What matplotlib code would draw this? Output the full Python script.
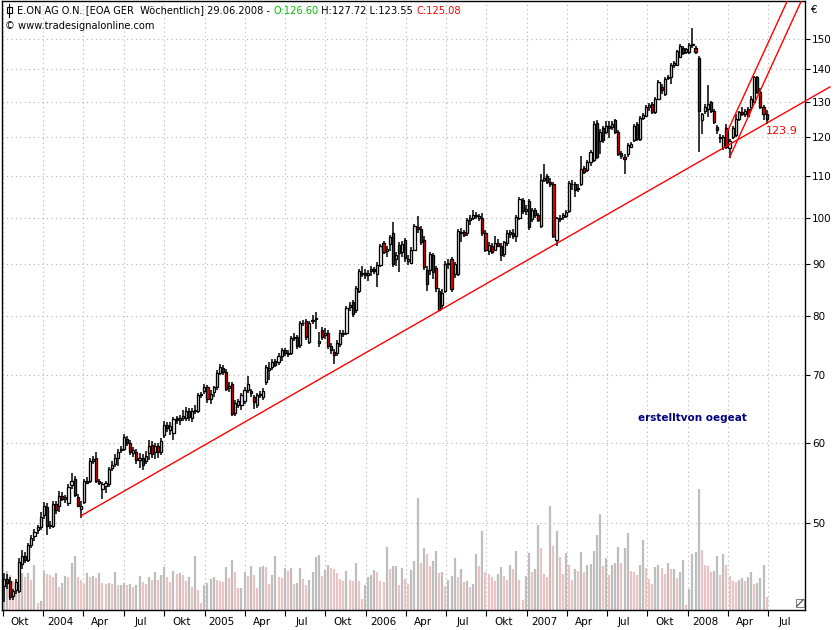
import datetime as dt

import numpy as np
import matplotlib
matplotlib.use("Agg")
import matplotlib.pyplot as plt
import matplotlib.dates as mdates
from matplotlib.patches import Rectangle
from matplotlib.lines import Line2D
from matplotlib.ticker import FixedLocator, FixedFormatter, NullLocator, NullFormatter

W, H = 840, 630

# ── Data: E.ON weekly candles ────────────────────────────────────────────────
FIRST_WEEK = dt.date(2003, 10, 3)

OPEN = [
    43.3, 44.0, 43.8, 42.4, 42.9, 42.8, 45.5, 46.4, 46.0, 47.5,
    48.5, 49.2, 49.5, 50.9, 51.8, 49.7, 49.6, 52.2, 52.0, 53.2,
    52.8, 52.3, 54.5, 55.3, 53.0, 51.6, 52.4, 55.0, 55.0, 57.6,
    58.0, 55.0, 54.0, 54.4, 54.6, 56.6, 57.2, 58.0, 59.0, 59.2,
    60.5, 60.0, 58.6, 58.7, 57.7, 58.0, 57.6, 58.6, 59.7, 58.7,
    59.5, 58.7, 61.0, 62.4, 61.8, 61.3, 63.4, 63.2, 63.5, 63.5,
    64.5, 63.5, 64.6, 64.5, 66.8, 67.4, 68.0, 66.2, 67.3, 68.0,
    70.3, 71.0, 70.5, 67.9, 68.5, 64.2, 65.4, 65.3, 66.0, 67.6,
    67.4, 66.5, 65.3, 66.8, 66.5, 68.9, 70.7, 71.2, 72.2, 72.0,
    73.0, 74.0, 73.3, 73.6, 76.0, 76.2, 74.8, 78.7, 79.1, 75.4,
    79.0, 79.4, 75.2, 77.5, 76.6, 77.0, 74.7, 73.7, 73.5, 75.0,
    76.8, 77.0, 81.6, 82.5, 81.0, 84.7, 88.0, 88.2, 87.8, 88.5,
    89.0, 88.0, 89.8, 94.3, 92.6, 94.2, 96.6, 91.0, 94.0, 92.4,
    95.0, 90.6, 90.3, 93.0, 97.8, 97.4, 95.0, 88.8, 88.8, 91.8,
    89.2, 84.7, 82.0, 84.7, 90.0, 91.0, 88.0, 88.0, 96.5, 96.8,
    96.5, 99.4, 100.0, 100.3, 100.0, 100.0, 96.5, 92.7, 93.8, 93.0,
    94.3, 93.8, 92.0, 94.3, 96.4, 96.6, 96.0, 100.0, 104.0, 101.4,
    103.8, 99.7, 101.7, 100.5, 98.0, 109.0, 109.8, 108.4, 108.0, 95.0,
    99.6, 100.2, 100.4, 101.5, 108.0, 108.0, 106.8, 108.0, 111.8, 111.5,
    113.5, 114.0, 124.0, 119.0, 122.5, 121.5, 123.0, 122.8, 124.8, 121.5,
    115.8, 114.8, 115.5, 117.5, 119.2, 123.6, 119.5, 125.5, 126.0, 128.5,
    129.4, 127.0, 131.0, 134.5, 132.5, 137.2, 137.5, 141.5, 141.5, 144.0,
    147.0, 145.6, 145.6, 147.8, 147.0, 143.6, 124.8, 127.5, 128.0, 130.0,
    127.5, 122.8, 119.8, 117.5, 122.6, 117.0, 120.0, 120.5, 125.0, 127.2,
    126.5, 128.0, 128.5, 130.0, 137.5, 133.0, 128.5, 126.60,
]
HIGH = [
    44.6, 44.5, 44.2, 43.0, 44.0, 46.2, 47.0, 46.8, 47.8, 48.6,
    49.3, 49.8, 51.2, 52.4, 52.3, 50.2, 52.6, 52.6, 53.8, 53.6,
    53.3, 54.6, 56.0, 55.6, 53.4, 52.6, 55.3, 55.5, 57.9, 58.2,
    58.7, 55.3, 54.9, 55.0, 56.8, 57.5, 58.4, 59.2, 59.6, 61.2,
    60.9, 60.4, 59.4, 59.1, 58.6, 58.5, 58.8, 60.3, 60.2, 60.0,
    60.0, 60.6, 63.0, 62.8, 62.8, 63.6, 63.8, 63.9, 64.6, 65.0,
    64.9, 64.9, 65.4, 67.2, 67.3, 68.6, 68.4, 67.6, 68.3, 70.7,
    71.8, 71.5, 70.9, 68.8, 68.9, 66.1, 66.3, 67.2, 68.1, 69.8,
    67.8, 66.9, 67.2, 67.4, 67.9, 71.6, 72.0, 72.6, 72.6, 73.5,
    74.4, 74.4, 74.0, 76.5, 77.0, 76.6, 79.0, 79.2, 79.4, 79.1,
    80.2, 80.7, 77.2, 78.0, 77.8, 77.5, 75.2, 74.2, 75.8, 77.4,
    77.5, 81.9, 82.5, 82.9, 85.6, 88.9, 89.6, 88.9, 88.8, 89.6,
    89.4, 90.4, 94.2, 94.8, 93.8, 96.2, 98.9, 92.5, 94.6, 94.9,
    95.5, 91.8, 93.5, 98.6, 100.3, 98.0, 95.8, 89.5, 92.5, 92.3,
    89.6, 85.2, 85.0, 90.6, 91.0, 91.5, 90.4, 97.4, 97.6, 97.3,
    99.9, 100.6, 101.8, 101.2, 100.9, 101.0, 97.2, 94.6, 94.3, 95.8,
    95.2, 94.3, 94.9, 97.2, 97.3, 97.4, 100.6, 104.8, 104.6, 102.8,
    104.3, 102.2, 102.3, 101.0, 110.5, 113.0, 110.5, 109.4, 108.5, 100.2,
    100.6, 101.0, 101.7, 108.6, 108.8, 108.4, 107.8, 115.0, 112.4, 114.0,
    116.5, 124.6, 124.8, 122.2, 123.0, 124.5, 124.6, 124.5, 125.2, 122.0,
    116.2, 115.5, 118.5, 118.8, 123.6, 124.2, 126.0, 126.8, 129.0, 129.6,
    129.9, 131.6, 136.6, 135.3, 137.6, 138.3, 142.0, 142.8, 146.4, 148.3,
    147.6, 147.0, 148.5, 153.8, 147.6, 144.2, 126.9, 129.5, 135.0, 130.4,
    128.0, 123.4, 121.0, 120.6, 123.6, 119.5, 123.0, 126.5, 127.5, 128.6,
    128.0, 128.5, 131.8, 138.0, 138.0, 134.2, 129.2, 127.72,
]
LOW = [
    41.8, 43.0, 42.0, 42.0, 42.5, 42.6, 45.0, 45.6, 45.8, 47.2,
    48.0, 48.8, 49.2, 50.5, 48.6, 49.3, 49.4, 51.0, 51.2, 52.6,
    52.3, 52.0, 54.0, 53.0, 51.8, 50.6, 52.2, 54.6, 54.8, 57.2,
    54.8, 54.5, 52.8, 53.5, 54.2, 56.2, 56.8, 56.9, 58.6, 58.9,
    59.6, 58.3, 58.1, 57.1, 56.6, 56.4, 57.2, 57.7, 58.0, 57.8,
    58.0, 58.3, 60.6, 61.5, 61.0, 60.3, 62.6, 62.4, 63.0, 63.0,
    63.0, 62.8, 64.0, 64.2, 66.4, 67.0, 65.7, 65.5, 66.6, 67.6,
    69.9, 70.0, 67.4, 67.3, 63.7, 63.8, 64.9, 64.6, 65.5, 67.2,
    66.6, 64.8, 64.9, 66.4, 66.1, 68.4, 69.2, 70.7, 71.2, 71.5,
    72.2, 73.0, 72.8, 73.2, 75.6, 74.2, 74.4, 78.2, 75.8, 75.0,
    78.6, 77.6, 74.6, 75.8, 75.9, 74.2, 73.4, 71.8, 73.0, 74.5,
    76.2, 76.6, 80.9, 79.8, 80.6, 84.2, 87.3, 87.0, 86.6, 87.6,
    87.9, 85.5, 89.3, 92.0, 91.5, 92.6, 89.4, 89.6, 88.4, 91.5,
    90.5, 89.8, 89.9, 92.6, 96.6, 94.0, 88.8, 84.6, 87.8, 87.0,
    84.5, 80.8, 81.3, 84.2, 89.0, 84.5, 87.2, 87.5, 94.5, 95.6,
    96.0, 98.4, 99.4, 99.6, 99.2, 96.0, 92.5, 91.8, 92.0, 92.6,
    93.5, 90.6, 91.4, 93.8, 95.5, 95.2, 94.6, 99.5, 100.8, 100.6,
    97.3, 99.0, 100.0, 98.9, 97.6, 108.5, 107.8, 107.3, 95.4, 93.8,
    99.0, 99.5, 99.8, 101.0, 106.5, 104.8, 106.0, 107.5, 110.5, 110.8,
    112.5, 113.5, 114.3, 115.5, 118.5, 121.0, 119.8, 122.0, 121.0, 115.0,
    114.2, 110.5, 114.8, 117.0, 118.6, 119.0, 119.0, 124.8, 125.6, 127.5,
    126.5, 126.4, 130.6, 132.5, 131.8, 136.6, 135.5, 140.5, 141.0, 143.5,
    144.6, 145.0, 145.0, 146.8, 144.9, 116.0, 121.0, 126.5, 125.6, 126.8,
    123.6, 120.8, 118.5, 116.5, 116.8, 114.6, 119.5, 120.0, 124.5, 126.0,
    125.6, 125.6, 127.5, 129.6, 132.5, 128.0, 124.8, 123.55,
]
CLOSE = [
    44.0, 43.6, 42.3, 42.8, 43.7, 45.8, 46.4, 46.0, 47.5, 48.3,
    49.0, 49.5, 50.7, 52.0, 49.7, 49.8, 52.2, 51.5, 53.2, 52.8,
    53.0, 54.2, 55.0, 53.3, 52.0, 52.0, 55.0, 54.8, 57.6, 57.8,
    55.0, 54.8, 54.6, 54.8, 56.5, 57.0, 58.0, 58.7, 59.2, 60.7,
    60.0, 58.7, 59.0, 57.7, 58.0, 57.0, 58.2, 59.5, 58.5, 59.5,
    58.7, 60.2, 62.5, 62.0, 62.3, 63.3, 63.1, 63.5, 63.8, 64.5,
    63.6, 64.5, 64.4, 66.8, 67.0, 68.0, 66.3, 67.0, 68.0, 70.3,
    71.2, 70.5, 67.8, 68.3, 64.0, 65.7, 66.0, 66.8, 67.6, 68.6,
    67.2, 65.8, 66.8, 67.0, 67.5, 71.2, 71.0, 72.0, 71.6, 73.0,
    74.0, 73.5, 73.6, 76.0, 76.2, 74.7, 78.7, 78.8, 76.3, 78.8,
    79.2, 79.6, 75.5, 76.3, 76.9, 74.7, 74.0, 73.2, 75.3, 77.0,
    77.0, 81.5, 82.0, 80.4, 85.2, 88.5, 88.2, 87.8, 88.2, 89.0,
    88.5, 89.8, 93.8, 92.5, 93.2, 95.7, 90.0, 91.8, 92.2, 94.2,
    91.2, 91.0, 93.0, 98.0, 97.4, 94.6, 89.4, 86.0, 92.0, 88.4,
    85.3, 81.0, 84.3, 90.0, 90.3, 85.0, 90.0, 97.0, 96.8, 96.2,
    99.4, 100.0, 100.5, 100.6, 100.3, 96.5, 93.0, 94.0, 92.4, 94.3,
    93.8, 91.8, 94.5, 96.6, 96.8, 95.8, 100.2, 104.4, 101.4, 102.0,
    97.8, 101.7, 100.5, 99.5, 109.0, 109.5, 108.5, 108.0, 96.0, 99.8,
    100.0, 100.5, 101.2, 108.2, 108.0, 106.5, 107.0, 111.6, 111.0, 113.5,
    116.0, 123.7, 114.8, 121.5, 119.3, 123.2, 122.5, 123.8, 121.5, 115.5,
    115.0, 114.3, 117.8, 118.2, 123.0, 119.4, 125.5, 126.2, 128.5, 129.0,
    127.0, 131.0, 136.0, 133.5, 137.0, 137.5, 141.5, 142.0, 146.0, 147.5,
    145.2, 146.5, 148.0, 148.3, 145.5, 127.3, 126.6, 128.5, 129.3, 127.5,
    124.3, 122.0, 120.2, 120.0, 117.5, 119.0, 122.5, 125.0, 127.0, 126.5,
    127.5, 126.0, 131.0, 137.5, 133.0, 128.5, 126.6, 125.08,
]
# volume, in pixels of bar height on the original chart
VOLUME = [
    30, 39, 35, 29, 25, 28, 37, 33, 37, 30,
    45, 7, 9, 39, 36, 35, 33, 37, 23, 27,
    34, 33, 47, 54, 33, 30, 26, 37, 33, 34,
    32, 37, 27, 26, 27, 26, 38, 25, 25, 27,
    25, 26, 23, 25, 34, 28, 26, 33, 30, 38,
    30, 35, 43, 33, 28, 39, 36, 37, 35, 29,
    33, 23, 54, 20, 7, 25, 27, 31, 33, 30,
    29, 28, 43, 32, 50, 38, 22, 22, 38, 34,
    44, 35, 22, 43, 44, 43, 26, 35, 54, 33,
    32, 42, 39, 42, 26, 27, 42, 31, 25, 30,
    38, 53, 55, 34, 40, 45, 42, 41, 37, 31,
    29, 39, 30, 29, 47, 29, 11, 25, 33, 35,
    40, 38, 29, 28, 63, 41, 44, 44, 25, 42,
    31, 26, 40, 49, 112, 47, 62, 56, 44, 49,
    59, 37, 38, 24, 30, 34, 52, 33, 41, 28,
    29, 23, 26, 56, 44, 79, 38, 36, 33, 29,
    36, 43, 34, 30, 45, 41, 59, 30, 10, 34,
    57, 38, 41, 85, 62, 36, 33, 104, 64, 79,
    53, 36, 57, 45, 30, 41, 39, 58, 38, 45,
    46, 59, 75, 96, 44, 52, 35, 45, 47, 63,
    47, 62, 77, 39, 38, 35, 45, 70, 42, 31,
    26, 43, 45, 42, 36, 47, 41, 41, 32, 38,
    50, 5, 21, 56, 58, 121, 60, 45, 44, 38,
    39, 54, 35, 56, 45, 34, 29, 28, 30, 32,
    29, 33, 38, 26, 27, 32, 45, 13,
]

QUARTER_STARTS = [(2003, 10)] + [(y, m) for y in range(2004, 2009)
                                 for m in (1, 4, 7, 10)][:-1]
QUARTER_LABELS = ["Okt"] + [lbl for y in range(2004, 2009)
                            for lbl in (str(y), "Apr", "Jul", "Okt")][:-1]
PRICE_TICKS = [50, 60, 70, 80, 90, 100, 110, 120, 130, 140, 150]

# trend lines: (week index, price) anchors
SUPPORT = [(25, 50.8), (247, 123.9)]
CHANNEL_A = [(235, 114.6), (247, 137.7)]
CHANNEL_B = [(234, 121.0), (247, 147.6)]

# ── Styling ──────────────────────────────────────────────────────────────────
FONT = "DejaVu Sans"
RED = "#ff0000"
GREEN = "#00c000"
VOL_UP = "#bebebe"
VOL_DOWN = "#ebc3c3"
GRID = dict(color="#b4b4b4", linestyle=(0, (1, 3)), linewidth=0.8)


def px(x, y):
    """Pixel position on the 840x630 canvas -> figure fraction."""
    return x / W, 1 - y / H


def week_num(i):
    return mdates.date2num(FIRST_WEEK) + 7 * i


def trend(anchors, i_from, i_to):
    (i0, p0), (i1, p1) = anchors
    k = (np.log(p1) - np.log(p0)) / (i1 - i0)
    ii = np.array([i_from, i_to], dtype=float)
    return week_num(ii), np.exp(np.log(p0) + k * (ii - i0))


def main():
    plt.rcParams["font.family"] = FONT
    fig = plt.figure(figsize=(W / 100, H / 100), dpi=100, facecolor="white")
    ax = fig.add_axes([2 / W, (H - 610) / H, 803 / W, 609 / H])

    n = len(CLOSE)
    xs = week_num(np.arange(n))

    # volume in the lower part, scaled in chart pixels
    vol = np.array(VOLUME, dtype=float)
    rising = np.r_[True, vol[1:] >= vol[:-1]]
    vcolors = [VOL_UP if r else VOL_DOWN for r in rising]
    ax.vlines(xs, 0, vol / 609.0, colors=vcolors, linewidth=1.6,
              transform=ax.get_xaxis_transform(), zorder=1)

    # candles
    ax.vlines(xs, LOW, HIGH, colors="black", linewidth=1.1, zorder=3)
    body_w = 4.8
    for x, o, c in zip(xs, OPEN, CLOSE):
        lo, hi = min(o, c), max(o, c)
        face = "white" if c >= o else RED
        ax.add_patch(Rectangle((x - body_w / 2, lo), body_w, hi - lo,
                               facecolor=face, edgecolor="black",
                               linewidth=0.95, zorder=4))

    # trend lines
    sx, sy = trend(SUPPORT, SUPPORT[0][0], 267.5)
    ax.plot(sx, sy, color=RED, linewidth=1.0, zorder=5, clip_on=False)
    for ch in (CHANNEL_A, CHANNEL_B):
        cx, cy = trend(ch, ch[0][0], 262)
        ax.plot(cx, cy, color=RED, linewidth=1.0, zorder=5)
    ax.text(week_num(n - 1) - 1, 121.6, f"{SUPPORT[1][1]:.1f}", color=RED,
            fontsize=8, ha="left", va="center", zorder=6)

    # axes
    ax.set_yscale("log")
    ax.set_ylim(41.03, 163.5)
    ax.set_xlim(mdates.date2num(dt.date(2003, 9, 29)) + 0.4,
                mdates.date2num(dt.date(2008, 9, 22)))
    ax.yaxis.tick_right()
    ax.yaxis.set_major_locator(FixedLocator(PRICE_TICKS))
    ax.yaxis.set_major_formatter(FixedFormatter([str(p) for p in PRICE_TICKS]))
    ax.yaxis.set_minor_locator(NullLocator())
    ax.yaxis.set_minor_formatter(NullFormatter())
    ax.tick_params(axis="y", direction="out", length=3.5, width=0.8,
                   pad=1.5, labelsize=7.5)

    q_starts = [mdates.date2num(dt.date(y, m, 1)) for y, m in QUARTER_STARTS]
    ax.xaxis.set_major_locator(FixedLocator(q_starts))
    ax.xaxis.set_major_formatter(NullFormatter())
    ax.xaxis.set_minor_locator(FixedLocator([q + 38.5 for q in q_starts]))
    ax.xaxis.set_minor_formatter(FixedFormatter(QUARTER_LABELS))
    ax.tick_params(axis="x", which="major", direction="out", length=4,
                   width=0.8)
    ax.tick_params(axis="x", which="minor", length=0, pad=5, labelsize=7.5)

    ax.grid(True, which="major", **GRID)
    ax.set_axisbelow(True)
    for sp in ax.spines.values():
        sp.set_color("black")
        sp.set_linewidth(1.0)

    # author note
    fig.text(*px(692, 418), "erstelltvon oegeat", color="#000080",
             fontsize=7.5, fontweight="bold", ha="center", va="center")
    fig.text(*px(811, 10), "€", fontsize=7.5, ha="left", va="center")

    # header with a tiny candle icon
    fig.add_artist(Line2D([px(9, 4)[0], px(9, 17)[0]], [px(9, 4)[1], px(9, 17)[1]],
                          transform=fig.transFigure, color="black", lw=0.8))
    fig.add_artist(Rectangle(px(6.5, 13), 5 / W, 6 / H, transform=fig.transFigure,
                             facecolor="white", edgecolor="black", lw=0.8))
    pieces = [
        ("E.ON AG O.N. [EOA GER  Wöchentlich] 29.06.2008 - ", "black"),
        (f"O:{OPEN[-1]:.2f}", GREEN),
        (f" H:{HIGH[-1]:.2f} L:{LOW[-1]:.2f} ", "black"),
        (f"C:{CLOSE[-1]:.2f}", RED),
    ]
    renderer = fig.canvas.get_renderer()
    x = 17
    for s, col in pieces:
        t = fig.text(*px(x, 10.5), s, color=col, fontsize=7.1, ha="left",
                     va="center")
        x += t.get_window_extent(renderer).width
    fig.text(*px(5, 26), "© www.tradesignalonline.com", fontsize=7.1,
             ha="left", va="center")

    # resize grip in the lower right corner
    fig.add_artist(Rectangle(px(796, 607), 8 / W, 8 / H, transform=fig.transFigure,
                             facecolor="white", edgecolor="#808080", lw=0.8))
    fig.add_artist(Line2D([px(797, 606)[0], px(803, 600)[0]],
                          [px(797, 606)[1], px(803, 600)[1]],
                          transform=fig.transFigure, color="#404040", lw=0.8))

    fig.savefig("out.png", dpi=100, facecolor="white")
    plt.close(fig)


if __name__ == "__main__":
    main()
